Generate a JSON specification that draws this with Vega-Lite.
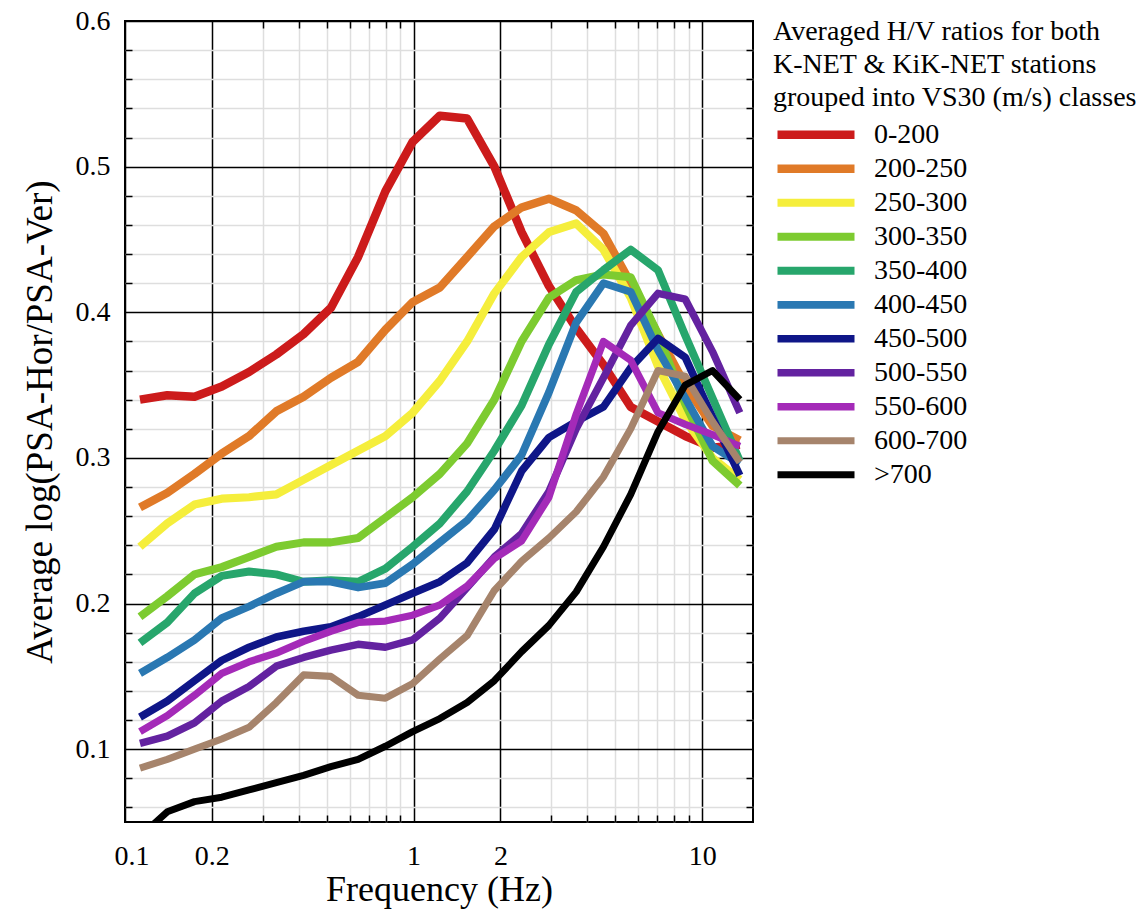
{
  "$schema": "https://vega.github.io/schema/vega-lite/v6.json",
  "width": 628,
  "height": 801,
  "autosize": "none",
  "padding": {"left": 125, "top": 21, "right": 383, "bottom": 94},
  "background": "white",
  "config": {
    "font": "Liberation Serif",
    "view": {"stroke": "black", "strokeWidth": 2},
    "axis": {"domain": false, "labelFont": "Liberation Serif", "titleFont": "Liberation Serif", "labelColor": "black", "titleColor": "black", "titleFontWeight": "normal"}
  },
  "datasets": {
    "hv": [
      {"c":"0-200","f":0.1127,"v":0.340},{"c":"0-200","f":0.1401,"v":0.343},{"c":"0-200","f":0.1741,"v":0.342},{"c":"0-200","f":0.2164,"v":0.349},{"c":"0-200","f":0.269,"v":0.359},{"c":"0-200","f":0.3344,"v":0.371},{"c":"0-200","f":0.4157,"v":0.385},{"c":"0-200","f":0.5167,"v":0.403},{"c":"0-200","f":0.6423,"v":0.438},{"c":"0-200","f":0.7985,"v":0.483},{"c":"0-200","f":0.9922,"v":0.517},{"c":"0-200","f":1.233,"v":0.535},{"c":"0-200","f":1.533,"v":0.533},{"c":"0-200","f":1.905,"v":0.500},{"c":"0-200","f":2.368,"v":0.455},{"c":"0-200","f":2.944,"v":0.418},{"c":"0-200","f":3.66,"v":0.389},{"c":"0-200","f":4.549,"v":0.364},{"c":"0-200","f":5.655,"v":0.335},{"c":"0-200","f":7.028,"v":0.325},{"c":"0-200","f":8.737,"v":0.315},{"c":"0-200","f":10.86,"v":0.307},{"c":"0-200","f":13.5,"v":0.309},
      {"c":"200-250","f":0.1127,"v":0.266},{"c":"200-250","f":0.1401,"v":0.276},{"c":"200-250","f":0.1741,"v":0.289},{"c":"200-250","f":0.2164,"v":0.303},{"c":"200-250","f":0.269,"v":0.315},{"c":"200-250","f":0.3344,"v":0.332},{"c":"200-250","f":0.4157,"v":0.342},{"c":"200-250","f":0.5167,"v":0.355},{"c":"200-250","f":0.6423,"v":0.366},{"c":"200-250","f":0.7985,"v":0.388},{"c":"200-250","f":0.9922,"v":0.407},{"c":"200-250","f":1.233,"v":0.417},{"c":"200-250","f":1.533,"v":0.438},{"c":"200-250","f":1.905,"v":0.459},{"c":"200-250","f":2.368,"v":0.472},{"c":"200-250","f":2.944,"v":0.478},{"c":"200-250","f":3.66,"v":0.470},{"c":"200-250","f":4.549,"v":0.454},{"c":"200-250","f":5.655,"v":0.420},{"c":"200-250","f":7.028,"v":0.385},{"c":"200-250","f":8.737,"v":0.350},{"c":"200-250","f":10.86,"v":0.322},{"c":"200-250","f":13.5,"v":0.312},
      {"c":"250-300","f":0.1127,"v":0.239},{"c":"250-300","f":0.1401,"v":0.255},{"c":"250-300","f":0.1741,"v":0.268},{"c":"250-300","f":0.2164,"v":0.272},{"c":"250-300","f":0.269,"v":0.273},{"c":"250-300","f":0.3344,"v":0.275},{"c":"250-300","f":0.4157,"v":0.285},{"c":"250-300","f":0.5167,"v":0.295},{"c":"250-300","f":0.6423,"v":0.305},{"c":"250-300","f":0.7985,"v":0.315},{"c":"250-300","f":0.9922,"v":0.331},{"c":"250-300","f":1.233,"v":0.353},{"c":"250-300","f":1.533,"v":0.380},{"c":"250-300","f":1.905,"v":0.413},{"c":"250-300","f":2.368,"v":0.438},{"c":"250-300","f":2.944,"v":0.455},{"c":"250-300","f":3.66,"v":0.461},{"c":"250-300","f":4.549,"v":0.443},{"c":"250-300","f":5.655,"v":0.410},{"c":"250-300","f":7.028,"v":0.363},{"c":"250-300","f":8.737,"v":0.326},{"c":"250-300","f":10.86,"v":0.300},{"c":"250-300","f":13.5,"v":0.285},
      {"c":"300-350","f":0.1127,"v":0.191},{"c":"300-350","f":0.1401,"v":0.205},{"c":"300-350","f":0.1741,"v":0.220},{"c":"300-350","f":0.2164,"v":0.225},{"c":"300-350","f":0.269,"v":0.232},{"c":"300-350","f":0.3344,"v":0.239},{"c":"300-350","f":0.4157,"v":0.242},{"c":"300-350","f":0.5167,"v":0.242},{"c":"300-350","f":0.6423,"v":0.245},{"c":"300-350","f":0.7985,"v":0.259},{"c":"300-350","f":0.9922,"v":0.273},{"c":"300-350","f":1.233,"v":0.289},{"c":"300-350","f":1.533,"v":0.310},{"c":"300-350","f":1.905,"v":0.340},{"c":"300-350","f":2.368,"v":0.380},{"c":"300-350","f":2.944,"v":0.410},{"c":"300-350","f":3.66,"v":0.422},{"c":"300-350","f":4.549,"v":0.426},{"c":"300-350","f":5.655,"v":0.424},{"c":"300-350","f":7.028,"v":0.385},{"c":"300-350","f":8.737,"v":0.337},{"c":"300-350","f":10.86,"v":0.298},{"c":"300-350","f":13.5,"v":0.281},
      {"c":"350-400","f":0.1127,"v":0.173},{"c":"350-400","f":0.1401,"v":0.187},{"c":"350-400","f":0.1741,"v":0.207},{"c":"350-400","f":0.2164,"v":0.219},{"c":"350-400","f":0.269,"v":0.222},{"c":"350-400","f":0.3344,"v":0.220},{"c":"350-400","f":0.4157,"v":0.215},{"c":"350-400","f":0.5167,"v":0.216},{"c":"350-400","f":0.6423,"v":0.215},{"c":"350-400","f":0.7985,"v":0.224},{"c":"350-400","f":0.9922,"v":0.239},{"c":"350-400","f":1.233,"v":0.255},{"c":"350-400","f":1.533,"v":0.277},{"c":"350-400","f":1.905,"v":0.305},{"c":"350-400","f":2.368,"v":0.336},{"c":"350-400","f":2.944,"v":0.378},{"c":"350-400","f":3.66,"v":0.414},{"c":"350-400","f":4.549,"v":0.429},{"c":"350-400","f":5.655,"v":0.443},{"c":"350-400","f":7.028,"v":0.429},{"c":"350-400","f":8.737,"v":0.384},{"c":"350-400","f":10.86,"v":0.341},{"c":"350-400","f":13.5,"v":0.298},
      {"c":"400-450","f":0.1127,"v":0.152},{"c":"400-450","f":0.1401,"v":0.163},{"c":"400-450","f":0.1741,"v":0.175},{"c":"400-450","f":0.2164,"v":0.190},{"c":"400-450","f":0.269,"v":0.198},{"c":"400-450","f":0.3344,"v":0.207},{"c":"400-450","f":0.4157,"v":0.215},{"c":"400-450","f":0.5167,"v":0.215},{"c":"400-450","f":0.6423,"v":0.211},{"c":"400-450","f":0.7985,"v":0.214},{"c":"400-450","f":0.9922,"v":0.227},{"c":"400-450","f":1.233,"v":0.242},{"c":"400-450","f":1.533,"v":0.257},{"c":"400-450","f":1.905,"v":0.278},{"c":"400-450","f":2.368,"v":0.302},{"c":"400-450","f":2.944,"v":0.345},{"c":"400-450","f":3.66,"v":0.393},{"c":"400-450","f":4.549,"v":0.420},{"c":"400-450","f":5.655,"v":0.414},{"c":"400-450","f":7.028,"v":0.374},{"c":"400-450","f":8.737,"v":0.341},{"c":"400-450","f":10.86,"v":0.308},{"c":"400-450","f":13.5,"v":0.296},
      {"c":"450-500","f":0.1127,"v":0.122},{"c":"450-500","f":0.1401,"v":0.133},{"c":"450-500","f":0.1741,"v":0.147},{"c":"450-500","f":0.2164,"v":0.161},{"c":"450-500","f":0.269,"v":0.170},{"c":"450-500","f":0.3344,"v":0.177},{"c":"450-500","f":0.4157,"v":0.181},{"c":"450-500","f":0.5167,"v":0.184},{"c":"450-500","f":0.6423,"v":0.191},{"c":"450-500","f":0.7985,"v":0.199},{"c":"450-500","f":0.9922,"v":0.207},{"c":"450-500","f":1.233,"v":0.215},{"c":"450-500","f":1.533,"v":0.228},{"c":"450-500","f":1.905,"v":0.251},{"c":"450-500","f":2.368,"v":0.291},{"c":"450-500","f":2.944,"v":0.314},{"c":"450-500","f":3.66,"v":0.325},{"c":"450-500","f":4.549,"v":0.335},{"c":"450-500","f":5.655,"v":0.362},{"c":"450-500","f":7.028,"v":0.382},{"c":"450-500","f":8.737,"v":0.369},{"c":"450-500","f":10.86,"v":0.328},{"c":"450-500","f":13.5,"v":0.288},
      {"c":"500-550","f":0.1127,"v":0.104},{"c":"500-550","f":0.1401,"v":0.109},{"c":"500-550","f":0.1741,"v":0.118},{"c":"500-550","f":0.2164,"v":0.133},{"c":"500-550","f":0.269,"v":0.143},{"c":"500-550","f":0.3344,"v":0.157},{"c":"500-550","f":0.4157,"v":0.163},{"c":"500-550","f":0.5167,"v":0.168},{"c":"500-550","f":0.6423,"v":0.172},{"c":"500-550","f":0.7985,"v":0.170},{"c":"500-550","f":0.9922,"v":0.175},{"c":"500-550","f":1.233,"v":0.190},{"c":"500-550","f":1.533,"v":0.211},{"c":"500-550","f":1.905,"v":0.232},{"c":"500-550","f":2.368,"v":0.248},{"c":"500-550","f":2.944,"v":0.277},{"c":"500-550","f":3.66,"v":0.320},{"c":"500-550","f":4.549,"v":0.355},{"c":"500-550","f":5.655,"v":0.391},{"c":"500-550","f":7.028,"v":0.413},{"c":"500-550","f":8.737,"v":0.409},{"c":"500-550","f":10.86,"v":0.373},{"c":"500-550","f":13.5,"v":0.331},
      {"c":"550-600","f":0.1127,"v":0.112},{"c":"550-600","f":0.1401,"v":0.123},{"c":"550-600","f":0.1741,"v":0.137},{"c":"550-600","f":0.2164,"v":0.152},{"c":"550-600","f":0.269,"v":0.160},{"c":"550-600","f":0.3344,"v":0.166},{"c":"550-600","f":0.4157,"v":0.174},{"c":"550-600","f":0.5167,"v":0.181},{"c":"550-600","f":0.6423,"v":0.187},{"c":"550-600","f":0.7985,"v":0.188},{"c":"550-600","f":0.9922,"v":0.192},{"c":"550-600","f":1.233,"v":0.199},{"c":"550-600","f":1.533,"v":0.212},{"c":"550-600","f":1.905,"v":0.231},{"c":"550-600","f":2.368,"v":0.243},{"c":"550-600","f":2.944,"v":0.273},{"c":"550-600","f":3.66,"v":0.330},{"c":"550-600","f":4.549,"v":0.380},{"c":"550-600","f":5.655,"v":0.367},{"c":"550-600","f":7.028,"v":0.331},{"c":"550-600","f":8.737,"v":0.323},{"c":"550-600","f":10.86,"v":0.316},{"c":"550-600","f":13.5,"v":0.308},
      {"c":"600-700","f":0.1127,"v":0.087},{"c":"600-700","f":0.1401,"v":0.093},{"c":"600-700","f":0.1741,"v":0.100},{"c":"600-700","f":0.2164,"v":0.107},{"c":"600-700","f":0.269,"v":0.115},{"c":"600-700","f":0.3344,"v":0.132},{"c":"600-700","f":0.4157,"v":0.151},{"c":"600-700","f":0.5167,"v":0.150},{"c":"600-700","f":0.6423,"v":0.137},{"c":"600-700","f":0.7985,"v":0.135},{"c":"600-700","f":0.9922,"v":0.145},{"c":"600-700","f":1.233,"v":0.162},{"c":"600-700","f":1.533,"v":0.178},{"c":"600-700","f":1.905,"v":0.209},{"c":"600-700","f":2.368,"v":0.229},{"c":"600-700","f":2.944,"v":0.245},{"c":"600-700","f":3.66,"v":0.263},{"c":"600-700","f":4.549,"v":0.287},{"c":"600-700","f":5.655,"v":0.320},{"c":"600-700","f":7.028,"v":0.360},{"c":"600-700","f":8.737,"v":0.356},{"c":"600-700","f":10.86,"v":0.325},{"c":"600-700","f":13.5,"v":0.297},
      {"c":">700","f":0.1127,"v":0.040},{"c":">700","f":0.1401,"v":0.057},{"c":">700","f":0.1741,"v":0.064},{"c":">700","f":0.2164,"v":0.067},{"c":">700","f":0.269,"v":0.072},{"c":">700","f":0.3344,"v":0.077},{"c":">700","f":0.4157,"v":0.082},{"c":">700","f":0.5167,"v":0.088},{"c":">700","f":0.6423,"v":0.093},{"c":">700","f":0.7985,"v":0.102},{"c":">700","f":0.9922,"v":0.112},{"c":">700","f":1.233,"v":0.121},{"c":">700","f":1.533,"v":0.132},{"c":">700","f":1.905,"v":0.147},{"c":">700","f":2.368,"v":0.167},{"c":">700","f":2.944,"v":0.185},{"c":">700","f":3.66,"v":0.208},{"c":">700","f":4.549,"v":0.239},{"c":">700","f":5.655,"v":0.275},{"c":">700","f":7.028,"v":0.318},{"c":">700","f":8.737,"v":0.350},{"c":">700","f":10.86,"v":0.360},{"c":">700","f":13.5,"v":0.340}
    ]
  },
  "data": {"name": "hv"},
  "resolve": {"axis": {"x": "independent", "y": "independent"}},
  "layer": [
    {
      "mark": {"type": "line", "opacity": 0},
      "encoding": {
        "detail": {"field": "c"},
        "x": {"field": "f", "type": "quantitative", "scale": {"type": "log", "domain": [0.1, 15], "nice": false},
          "axis": {"orient": "bottom", "values": [0.3,0.4,0.5,0.6,0.7,0.8,0.9,3,4,5,6,7,8,9], "grid": true, "gridColor": "#dedede", "gridWidth": 1.5, "labels": false, "ticks": true, "tickSize": -7, "tickColor": "black", "tickWidth": 1.5, "title": null}},
        "y": {"field": "v", "type": "quantitative", "scale": {"domain": [0.05, 0.6], "nice": false, "zero": false},
          "axis": {"orient": "left", "values": [0.06,0.08,0.12,0.14,0.16,0.18,0.22,0.24,0.26,0.28,0.32,0.34,0.36,0.38,0.42,0.44,0.46,0.48,0.52,0.54,0.56,0.58], "grid": true, "gridColor": "#dedede", "gridWidth": 1.5, "labels": false, "ticks": true, "tickSize": -7, "tickColor": "black", "tickWidth": 1.5, "title": null}}
      }
    },
    {
      "mark": {"type": "line", "opacity": 0},
      "encoding": {
        "detail": {"field": "c"},
        "x": {"field": "f", "type": "quantitative", "scale": {"type": "log", "domain": [0.1, 15], "nice": false},
          "axis": {"orient": "top", "values": [0.3,0.4,0.5,0.6,0.7,0.8,0.9,3,4,5,6,7,8,9], "grid": false, "labels": false, "ticks": true, "tickSize": -7, "tickColor": "black", "tickWidth": 1.5, "title": null}},
        "y": {"field": "v", "type": "quantitative", "scale": {"domain": [0.05, 0.6], "nice": false, "zero": false},
          "axis": {"orient": "right", "values": [0.06,0.08,0.12,0.14,0.16,0.18,0.22,0.24,0.26,0.28,0.32,0.34,0.36,0.38,0.42,0.44,0.46,0.48,0.52,0.54,0.56,0.58], "grid": false, "labels": false, "ticks": true, "tickSize": -7, "tickColor": "black", "tickWidth": 1.5, "title": null}}
      }
    },
    {
      "mark": {"type": "line", "opacity": 0},
      "encoding": {
        "detail": {"field": "c"},
        "x": {"field": "f", "type": "quantitative", "scale": {"type": "log", "domain": [0.1, 15], "nice": false},
          "axis": {"orient": "bottom", "values": [0.1, 0.2, 1, 2, 10], "format": "~g", "grid": true, "gridColor": "black", "gridWidth": 1.5, "ticks": false, "tickSize": 0, "labelFontSize": 28, "labelPadding": 20, "labelFlush": true, "labelFlushOffset": 11, "title": "Frequency (Hz)", "titleFontSize": 36, "titlePadding": 2}},
        "y": {"field": "v", "type": "quantitative", "scale": {"domain": [0.05, 0.6], "nice": false, "zero": false},
          "axis": {"orient": "left", "values": [0.1, 0.2, 0.3, 0.4, 0.5, 0.6], "format": ".1f", "grid": true, "gridColor": "black", "gridWidth": 1.5, "ticks": false, "tickSize": 0, "labelFontSize": 28, "labelPadding": 15, "labelFlush": false, "title": "Average log(PSA-Hor/PSA-Ver)", "titleFontSize": 37, "titlePadding": 16}}
      }
    },
    {
      "mark": {"type": "line", "clip": true, "strokeJoin": "round"},
      "encoding": {
        "x": {"field": "f", "type": "quantitative", "scale": {"type": "log", "domain": [0.1, 15], "nice": false}, "axis": null},
        "y": {"field": "v", "type": "quantitative", "scale": {"domain": [0.05, 0.6], "nice": false, "zero": false}, "axis": null},
        "strokeWidth": {"field": "c", "type": "nominal",
          "scale": {"domain": ["0-200","200-250","250-300","300-350","350-400","400-450","450-500","500-550","550-600","600-700",">700"], "range": [8.5,7,7,6.5,6.5,6.5,6,6,6,5.5,5]},
          "legend": null},
        "color": {"field": "c", "type": "nominal",
          "scale": {"domain": ["0-200","200-250","250-300","300-350","350-400","400-450","450-500","500-550","550-600","600-700",">700"],
                    "range": ["#cc1b1b","#e07a28","#f5ee3c","#7dcb30","#27a66c","#2a78b2","#0f1688","#6322a0","#a42ab8","#a6846c","#000000"]},
          "legend": {"orient": "none", "legendX": 648, "legendY": -3,
            "title": ["Averaged H/V ratios for both", "K-NET & KiK-NET stations", "grouped into VS30 (m/s) classes"],
            "titleFont": "Liberation Serif", "titleFontSize": 28, "titleFontWeight": "normal", "titleLineHeight": 33, "titleColor": "black", "titlePadding": 6, "titleLimit": 500,
            "labelFont": "Liberation Serif", "labelFontSize": 28, "labelColor": "black", "labelLimit": 300, "labelOffset": 15,
            "symbolType": "stroke", "symbolSize": 5929, "symbolStrokeWidth": 6, "clipHeight": 33.5, "rowPadding": 0}}
      }
    }
  ]
}
